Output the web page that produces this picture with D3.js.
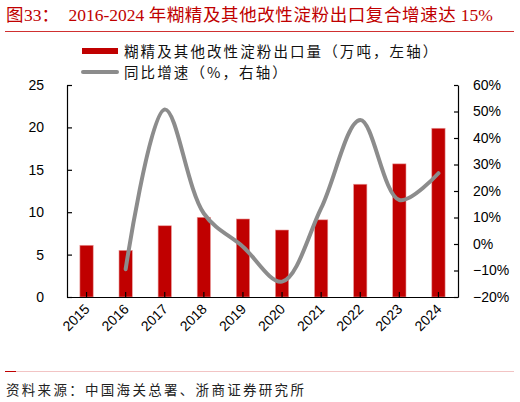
<!DOCTYPE html>
<head>
    <meta charset="utf-8">
    <script src="https://cdnjs.cloudflare.com/ajax/libs/d3/7.9.0/d3.js"></script>
    <style>
        body { margin: 0; background: #fff; }
    </style>
</head>
<body>
    <div id="chart"></div>
</body>
<script>

// data
const years = ["2015", "2016", "2017", "2018", "2019", "2020", "2021", "2022", "2023", "2024"]
const exportVolume = [6.1, 5.5, 8.4, 9.4, 9.2, 7.9, 9.1, 13.3, 15.7, 19.9]
const growthYears = ["2016", "2017", "2018", "2019", "2020", "2021", "2022", "2023", "2024"]
const growthRate = [-9.5, 50.8, 11.5, -1, -14.2, 13.5, 46.8, 16.6, 26.7]
const leftTicks = [0, 5, 10, 15, 20, 25]
const rightTicks = [-20, -10, 0, 10, 20, 30, 40, 50, 60]

// title split into latin / CJK runs so they can be spaced like the original
const titleParts = [
    {t: "图", cjk: true},
    {t: "33", cjk: false},
    {t: "：", cjk: true},
    {t: "  2016-2024 ", cjk: false},
    {t: "年糊精及其他改性淀粉出口复合增速达", cjk: true},
    {t: " 15%", cjk: false}
]
const barLabel = "糊精及其他改性淀粉出口量（万吨，左轴）"
const lineLabel = "同比增速（%，右轴）"
const sourceText = "资料来源：中国海关总署、浙商证券研究所"

const red = "#c00000"
const grey = "#8c8c8c"
const cjk = "'Noto Sans CJK SC', sans-serif"
const serif = "'Liberation Serif', 'Times New Roman', serif"
const num = "'Liberation Sans', Arial, sans-serif"

const W = 520, H = 402
const plot = {left: 67, right: 458, top: 85, bottom: 297}

const svg = d3.select("#chart")
    .append("svg")
    .attr("width", W)
    .attr("height", H)

// title and rule
svg.append("text")
    .attr("x", 6)
    .attr("y", 21)
    .attr("fill", red)
    .attr("font-size", 17.5)
    .style("white-space", "pre")
    .selectAll("tspan")
    .data(titleParts)
    .join("tspan")
    .attr("font-family", d => d.cjk ? cjk : serif)
    .attr("letter-spacing", d => d.cjk ? 0.6 : 0)
    .text(d => d.t)

svg.append("line")
    .attr("x1", 5).attr("x2", 514)
    .attr("y1", 31.5).attr("y2", 31.5)
    .attr("stroke", "#d03030")
    .attr("stroke-width", 1)

// scales
const x = d3.scaleBand()
    .domain(years)
    .range([plot.left, plot.right])
    .paddingInner(0.66)
    .paddingOuter(0.33)

const yL = d3.scaleLinear().domain([0, 25]).range([plot.bottom, plot.top])
const yR = d3.scaleLinear().domain([-20, 60]).range([plot.bottom, plot.top])

const cx = d => x(d) + x.bandwidth() / 2

// bars
svg.append("g")
    .selectAll("rect")
    .data(years)
    .join("rect")
    .attr("x", d => x(d))
    .attr("width", x.bandwidth())
    .attr("y", (d, i) => yL(exportVolume[i]))
    .attr("height", (d, i) => yL(0) - yL(exportVolume[i]))
    .attr("fill", red)
    .attr("stroke", "#e89a9a")
    .attr("stroke-width", 0.6)

// axes
const axisL = svg.append("g")
    .attr("transform", `translate(${plot.left},0)`)
    .call(d3.axisLeft(yL).tickValues(leftTicks).tickSizeInner(-5).tickSizeOuter(0).tickPadding(23))

const axisR = svg.append("g")
    .attr("transform", `translate(${plot.right},0)`)
    .call(d3.axisRight(yR).tickValues(rightTicks)
        .tickFormat(d => (d < 0 ? "\u2212" + (-d) : d) + "%")
        .tickSizeInner(-4).tickSizeOuter(0).tickPadding(15))

const axisB = svg.append("g")
    .attr("transform", `translate(0,${plot.bottom})`)
    .call(d3.axisBottom(x).tickSizeInner(-5).tickSizeOuter(0).tickFormat(""))

;[axisL, axisR, axisB].forEach(g => {
    g.select(".domain").attr("stroke", "#000").attr("stroke-width", 1.2)
    g.selectAll(".tick line").attr("stroke", "#000").attr("stroke-width", 1.2)
    g.selectAll("text")
        .attr("font-family", num)
        .attr("font-size", 14)
        .attr("fill", "#000")
})

// rotated year labels
svg.append("g")
    .selectAll("text")
    .data(years)
    .join("text")
    .attr("transform", d => `translate(${cx(d) + 4},${plot.bottom + 13}) rotate(-45)`)
    .attr("text-anchor", "end")
    .attr("font-family", num)
    .attr("font-size", 14)
    .attr("fill", "#000")
    .text(d => d)

// growth line
const line = d3.line()
    .x((d, i) => cx(growthYears[i]))
    .y(d => yR(d))
    .curve(d3.curveCatmullRom.alpha(0.5))

svg.append("path")
    .datum(growthRate)
    .attr("d", line)
    .attr("fill", "none")
    .attr("stroke", grey)
    .attr("stroke-width", 4)
    .attr("stroke-linecap", "round")

// legend
const legend = svg.append("g")
legend.append("rect")
    .attr("x", 82).attr("y", 48)
    .attr("width", 36).attr("height", 6)
    .attr("fill", red)
legend.append("text")
    .attr("x", 124).attr("y", 56.5)
    .attr("font-family", cjk)
    .attr("font-size", 14.5)
    .attr("letter-spacing", 2.1)
    .attr("fill", "#111")
    .text(barLabel)
legend.append("line")
    .attr("x1", 83).attr("x2", 117)
    .attr("y1", 72).attr("y2", 72)
    .attr("stroke", grey)
    .attr("stroke-width", 4)
    .attr("stroke-linecap", "round")
legend.append("text")
    .attr("x", 124).attr("y", 77.5)
    .attr("font-family", cjk)
    .attr("font-size", 14.5)
    .attr("letter-spacing", 2.1)
    .attr("fill", "#111")
    .text(lineLabel)

// source footer
svg.append("line")
    .attr("x1", 5).attr("x2", 514)
    .attr("y1", 371.5).attr("y2", 371.5)
    .attr("stroke", "#f2c4c4")
    .attr("stroke-width", 1)
svg.append("line")
    .attr("x1", 5).attr("x2", 16)
    .attr("y1", 371.5).attr("y2", 371.5)
    .attr("stroke", red)
    .attr("stroke-width", 1)
svg.append("text")
    .attr("x", 6).attr("y", 395)
    .attr("font-family", cjk)
    .attr("font-size", 13.5)
    .attr("letter-spacing", 2.3)
    .attr("fill", "#222")
    .text(sourceText)

</script>
